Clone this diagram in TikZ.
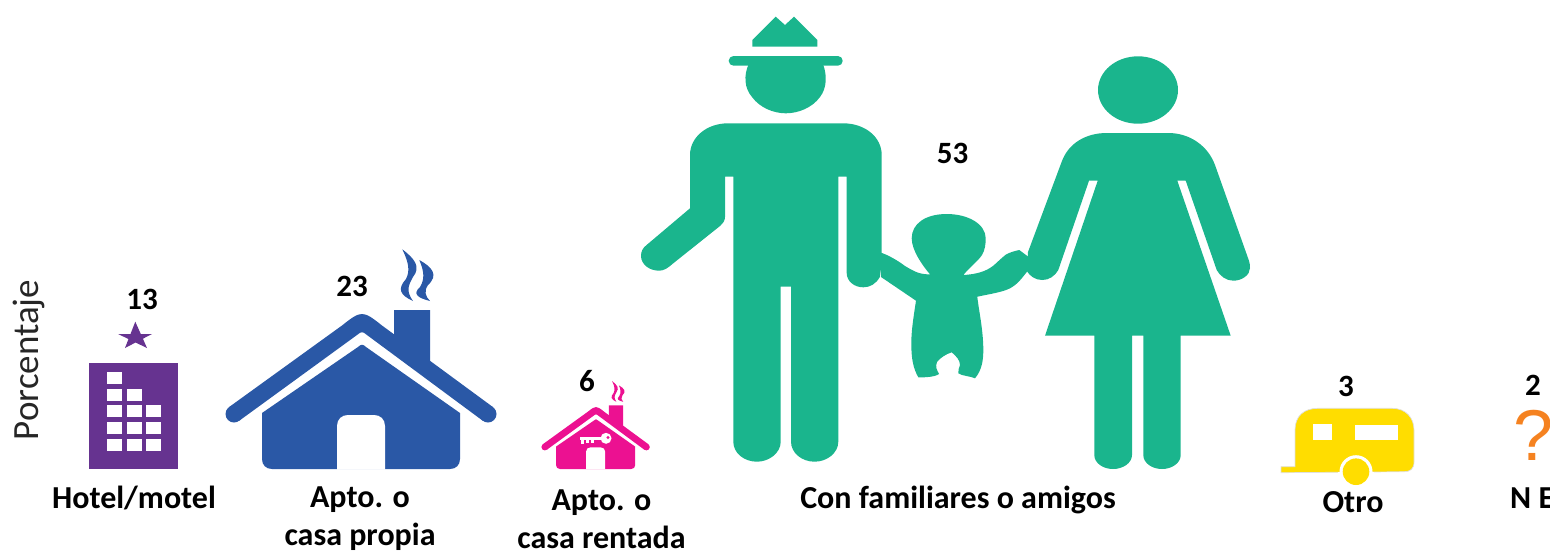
\documentclass[tikz,border=0pt]{standalone}
\usepackage{fontspec}
\setmainfont{Carlito}
\newfontfamily\qfont{Liberation Sans}
\definecolor{teal1}{HTML}{1AB58D}
\definecolor{blue1}{HTML}{2A58A6}
\definecolor{purple1}{HTML}{663390}
\definecolor{pink1}{HTML}{EC1191}
\definecolor{yellow1}{HTML}{FFDD00}
\definecolor{orange1}{HTML}{F58220}
\tikzset{
  val/.style={font=\fontsize{31}{34}\selectfont\bfseries,text=black,inner sep=0pt},
  lab/.style={font=\fontsize{32}{38}\selectfont\bfseries,text=black,inner sep=0pt},
}
% house drawn relative to apex x / ground y, in units of the large house
\newcommand{\casa}[1]{%
  \fill[#1] (32,-159) -- (68,-159) -- (68,-98) -- (32,-124) -- cycle;
  \fill[#1] (-128,-55) circle[radius=8.5];
  \fill[#1] (126,-55) circle[radius=8.5];
  \fill[#1] (-133,-61.9) -- (-20,-143.5) .. controls (-10,-151.5) and (-5,-155) .. (0,-155)
     .. controls (5,-155) and (10,-151.5) .. (20,-143.5) -- (131,-61.9) -- (121,-48.1)
     -- (2,-136.2) .. controls (0.7,-137) and (-0.7,-137) .. (-2,-136.2) -- (-123,-48.1) -- cycle;
  \fill[#1] (-100,-56) -- (-4,-122) .. controls (-1,-125) and (1,-125) .. (4,-122)
     -- (98,-56) -- (98,-10) .. controls (98,-4) and (94,0) .. (88,0) -- (-90,0) .. controls (-96,0) and (-100,-4) .. (-100,-10) -- cycle;
  \fill[white] (-25,0.5) -- (-25,-43) .. controls (-25,-50) and (-20,-54) .. (-14,-54) -- (12,-54)
     .. controls (18,-54) and (23,-50) .. (23,-43) -- (23,0.5) -- cycle;
  \fill[#1] (40.3,-219.7) .. controls (47,-206) and (48,-198) .. (44,-190) .. controls (35,-180) and (38,-174) .. (51,-168)
     .. controls (44,-178) and (46,-183) .. (51,-192) .. controls (59,-202) and (53,-210) .. (40.3,-219.7) -- cycle;
  \fill[#1] (57.3,-209) .. controls (62,-198) and (63,-190) .. (58,-182) .. controls (50,-175) and (56,-171) .. (68,-168)
     .. controls (63,-173) and (62,-178) .. (66,-184) .. controls (77,-194) and (70,-202) .. (57.3,-209) -- cycle;
}
\begin{document}
\begin{tikzpicture}[x=1pt,y=-1pt]
\useasboundingbox (0,0) rectangle (1550,550);
\clip (0,0) rectangle (1550,550);

% hotel
\fill[purple1] (89,363) rectangle (178,469);
\foreach \c/\r in {107/372,107/389,127/389,107/405,127/405,146/405,107/422,127/422,146/422,107/439,127/439,146/439}
  \fill[white] (\c,\r) rectangle ++(14.5,12);
\fill[purple1] (135.3,321.7) -- (140.8,334) -- (152,334) -- (142.9,338.7) -- (147,348) -- (135.6,342.5) -- (125,348) -- (128.5,339) -- (118,334) -- (130.5,334) -- cycle;

% own house
\begin{scope}[shift={(362,469)}]
  \casa{blue1}
\end{scope}

% rented house
\begin{scope}[shift={(596,469)},scale=.4]
  \casa{pink1}
\end{scope}
\fill[white] (606,438.3) circle[radius=5.5];
\fill[pink1] (608,437.5) circle[radius=1.6];
\fill[white] (580,436.5) rectangle (603,440);
\fill[white] (581,440) rectangle (584,443.5);
\fill[white] (586,440) rectangle (589,442.5);
\fill[white] (591,440) rectangle (594,443);

% man
\fill[teal1] (752.3,40) -- (775.7,16.7) -- (785,25) -- (794,16.7) -- (817.3,40) -- (817.3,46.7) -- (752.3,46.7) -- cycle;
\fill[teal1,rounded corners=4.8pt] (728.7,56) rectangle (842.7,65.7);
\fill[teal1] (748.3,65) .. controls (744,75) and (744,88) .. (752,97) .. controls (760,108) and (774,113.3) .. (785.7,113.3)
  .. controls (798,113.3) and (812,108) .. (820,97) .. controls (827,88) and (827,75) .. (823.3,65) -- cycle;
\fill[teal1] (728,123.3) -- (843,123.3) .. controls (865,123.3) and (881.7,137) .. (881.7,155) -- (881.7,253)
  -- (881.7,262) -- (880,276.7) .. controls (876,284) and (870,287.3) .. (863.3,287.3) .. controls (854,287.3) and (846.7,281) .. (846.7,273)
  -- (846.7,176.7) -- (838.3,176.7) -- (838.3,441.7) .. controls (838.3,453) and (827,461.7) .. (814.5,461.7)
  .. controls (802,461.7) and (791,453) .. (791,441.7) -- (791,286.7) -- (780.7,286.7) -- (780.7,441.7)
  .. controls (780.7,453) and (769,461.7) .. (757,461.7) .. controls (744,461.7) and (733.3,453) .. (733.3,441.7)
  -- (733.3,176.7) -- (725,176.7) -- (725,216.7) .. controls (725,221) and (723,223) .. (720,226)
  -- (673,263.5) .. controls (668,268) and (664,270.7) .. (659,270.7) .. controls (649,270.7) and (641,264) .. (641,256)
  .. controls (641,251) and (643,248) .. (646,245.5) -- (690,208.3) -- (690,155) .. controls (690,137) and (707,123.3) .. (728,123.3) -- cycle;

% child
\fill[teal1] (946.7,214) .. controls (925,214) and (911.7,224) .. (911.7,238.3) .. controls (911.7,250) and (922,265) .. (930,274.3)
  .. controls (920,274.5) and (915,272) .. (905,266) .. controls (897,260) and (888,255) .. (881,252.7)
  -- (881,277) -- (916,300.7) .. controls (913,320) and (911.3,332) .. (911.3,343.3) .. controls (911.3,358) and (913,368) .. (918.3,377.3)
  .. controls (925,377.5) and (935,377) .. (939,374) .. controls (937,370) and (935,367) .. (937,362) .. controls (940,358) and (946,354) .. (951.7,352.3)
  .. controls (956,356) and (960,360) .. (960,365) .. controls (960,368) and (957,370) .. (958.3,373.3)
  .. controls (962,376) and (970,376) .. (975,378.3) .. controls (982,370) and (983.3,360) .. (983.3,350)
  .. controls (983.3,330) and (979,312) .. (977.3,296.7) .. controls (990,294) and (1003,292) .. (1010,288.3)
  .. controls (1018,284) and (1022,278) .. (1027,271.7) -- (1030,258) -- (1019.3,250) .. controls (1010,252) and (1006,254) .. (1003.3,256.7)
  .. controls (998,261) and (995,265) .. (990,268) .. controls (982,273) and (972,274.5) .. (963.3,275)
  .. controls (970,267) and (978,261) .. (982,255) .. controls (985,250) and (985.7,244) .. (985.7,238.3)
  .. controls (985.7,224) and (968,214) .. (946.7,214) -- cycle;

% woman
\fill[teal1] (1138,90) ellipse[x radius=40,y radius=33.7];
\fill[teal1] (1106.7,133) -- (1168.3,133) .. controls (1190,133) and (1208,146) .. (1215,165) -- (1248,258)
  .. controls (1250,263) and (1250,266) .. (1250,268) .. controls (1250,275) and (1242,280.7) .. (1233.3,280.7)
  .. controls (1226,280.7) and (1220,276) .. (1216.7,270) -- (1185.7,180.7) -- (1177.3,180.7) -- (1230.7,335.7)
  -- (1180.7,335.7) -- (1180.7,455) .. controls (1180.7,463) and (1172,469) .. (1162,469) .. controls (1152,469) and (1143.3,463) .. (1143.3,455)
  -- (1143.3,335.7) -- (1132,335.7) -- (1132,455) .. controls (1132,463) and (1123,469) .. (1113,469) .. controls (1103,469) and (1094.3,463) .. (1094.3,455)
  -- (1094.3,335.7) -- (1045,335.7) -- (1097.7,180.7) -- (1089,180.7) -- (1058.3,270) .. controls (1055,276) and (1049,280) .. (1042.3,280)
  .. controls (1035,280) and (1030,276) .. (1026.7,271) -- (1028,252) -- (1061.7,161.7) .. controls (1068,144) and (1085,133) .. (1106.7,133) -- cycle;

% trailer
\fill[yellow1,draw=gray!25,line width=.7pt] (1281,466.7) -- (1295,466.7) -- (1295,430) .. controls (1295,416) and (1304,408.3) .. (1318,408.3)
  -- (1392,408.3) .. controls (1406,408.3) and (1414,418) .. (1414,430) -- (1414,462) .. controls (1414,469) and (1410,471.7) .. (1404,471.7)
  -- (1281,472.7) -- cycle;
\fill[white] (1313.3,424) rectangle (1332.3,440.3);
\fill[white] (1355,425) rectangle (1398.3,440.3);
\fill[white] (1356,471.7) circle[radius=16.5];
\fill[white] (1338,472) rectangle (1374,476);
\fill[yellow1] (1356,471.7) circle[radius=13.3];

% question mark
\node[text=orange1,font=\qfont\fontsize{72}{72}\selectfont,inner sep=0pt,anchor=base] (q) at (1534,460) {?};

% labels
\node[val] (v13) at (142,299) {13};
\node[val] (v23) at (352,286) {23};
\node[val] (v6) at (587,381) {6};
\node[val] (v53) at (952.5,153) {53};
\node[val] (v3) at (1346,386) {3};
\node[val] (v2) at (1533,385) {2};
\node[lab] (l1) at (134,498) {Hotel/motel};
\node[lab,align=center] (l2) at (360,519) {Apto. o\\casa propia};
\node[lab,align=center] (l3) at (601.5,519) {Apto. o\\casa rentada};
\node[lab] (l4) at (958,500) {Con familiares o amigos};
\node[lab] (l5) at (1353,502) {Otro};
\node[lab,anchor=west] (l6) at (1510,498) {N E};
\node[font=\fontsize{37}{37}\selectfont,rotate=90,inner sep=0pt,text=black!85] (yl) at (29,360) {Porcentaje};
\end{tikzpicture}
\end{document}
